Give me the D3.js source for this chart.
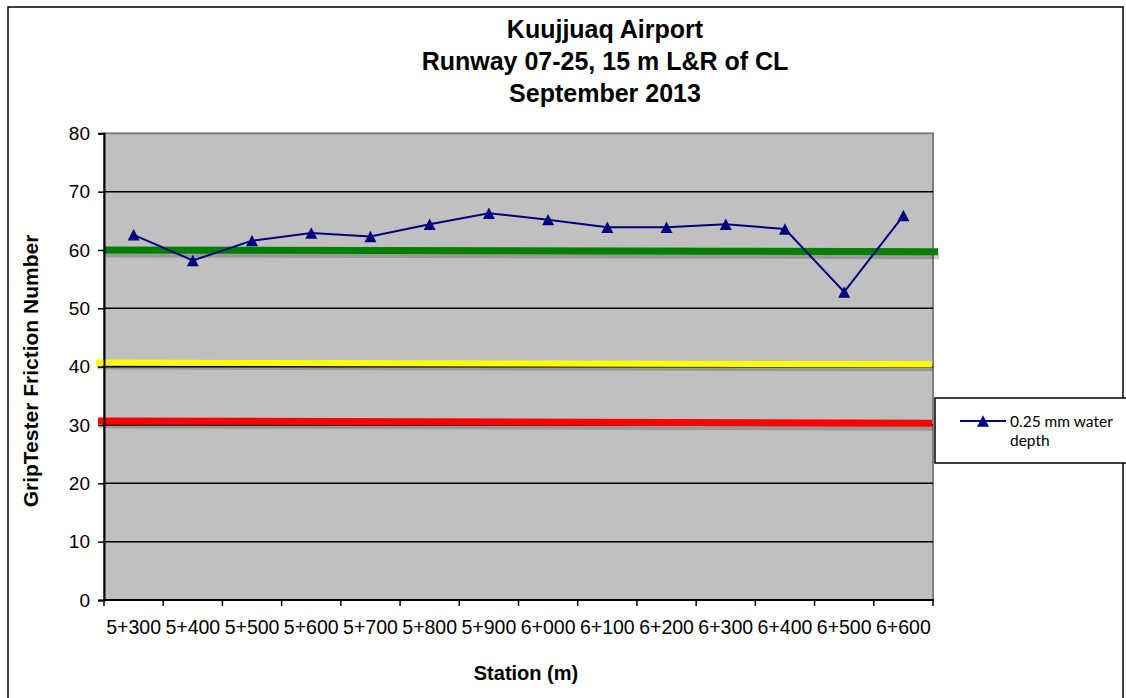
<!DOCTYPE html>
<html>
<head>
<meta charset="utf-8">
<script src="https://cdn.jsdelivr.net/npm/d3@7"></script>
<style>
  html, body { margin: 0; padding: 0; background: #fff; }
  svg { display: block; }
</style>
</head>
<body>
<svg id="chart" width="1126" height="698"></svg>
<script>
// Stations along the runway
const stations = ["5+300", "5+400", "5+500", "5+600", "5+700", "5+800", "5+900",
                  "6+000", "6+100", "6+200", "6+300", "6+400", "6+500", "6+600"];
// GripTester friction numbers at 0.25 mm water depth
const friction = [62.6, 58.2, 61.6, 62.9, 62.3, 64.4, 66.3,
                  65.2, 63.9, 63.9, 64.4, 63.6, 52.8, 65.9];
const yTicks = [0, 10, 20, 30, 40, 50, 60, 70, 80];
// Friction level lines (value at left end, value at right end)
const levelNames = ["design", "maintenance", "minimum"];
const levelStart = [60.0, 40.7, 30.7];
const levelEnd = [59.7, 40.4, 30.3];
const levelColors = ["#008000", "#ffff00", "#ff0000"];
const titleLines = ["Kuujjuaq Airport", "Runway 07-25, 15 m L&R of CL", "September 2013"];
const seriesName = ["0.25 mm water", "depth"];

const svg = d3.select("#chart");
const font = "'Liberation Sans', Arial, sans-serif";

const plot = { left: 104, right: 933, top: 133.3, bottom: 600 };

const x = d3.scaleBand().domain(stations).range([plot.left, plot.right]);
const y = d3.scaleLinear().domain([0, 80]).range([plot.bottom, plot.top]);

// outer chart frame
svg.append("rect").attr("x", 8).attr("y", 7).attr("width", 1115).attr("height", 700)
  .attr("fill", "#fff").attr("stroke", "#000").attr("stroke-width", 1.5);

// title
const title = svg.append("g").attr("font-family", font).attr("font-weight", "bold")
  .attr("font-size", 25).attr("text-anchor", "middle").attr("fill", "#000");
titleLines.forEach((t, i) => {
  title.append("text").attr("x", 605).attr("y", 38 + i * 32).text(t);
});

// plot background
svg.append("rect").attr("x", plot.left).attr("y", plot.top)
  .attr("width", plot.right - plot.left).attr("height", plot.bottom - plot.top)
  .attr("fill", "#c0c0c0").attr("stroke", "#808080").attr("stroke-width", 2);

// horizontal gridlines
svg.append("g").selectAll("line").data(yTicks.filter(d => d > 0 && d < 80)).join("line")
  .attr("x1", plot.left).attr("x2", plot.right)
  .attr("y1", d => y(d)).attr("y2", d => y(d))
  .attr("stroke", "#000").attr("stroke-width", 1.5);

// level lines with drop shadows
const levelX = [[104, 938], [96, 932], [98, 932]];
const levelW = [7, 6, 7];
const levels = svg.append("g");
levelNames.forEach((n, i) => {
  levels.append("line").attr("class", "shadow-" + n)
    .attr("x1", levelX[i][0] + 1).attr("x2", levelX[i][1] + 1)
    .attr("y1", y(levelStart[i]) + 4).attr("y2", y(levelEnd[i]) + 4)
    .attr("stroke", "#000").attr("stroke-opacity", 0.2).attr("stroke-width", levelW[i]);
  levels.append("line").attr("class", "level-" + n)
    .attr("x1", levelX[i][0]).attr("x2", levelX[i][1])
    .attr("y1", y(levelStart[i])).attr("y2", y(levelEnd[i]))
    .attr("stroke", levelColors[i]).attr("stroke-width", levelW[i]);
});

// y axis
const yAxis = svg.append("g").attr("transform", `translate(${plot.left},0)`)
  .call(d3.axisLeft(y).tickValues(yTicks).tickSize(6).tickPadding(8));
yAxis.select(".domain").attr("stroke", "#000").attr("stroke-width", 2);
yAxis.selectAll(".tick line").attr("stroke", "#000").attr("stroke-width", 1.5);
yAxis.selectAll(".tick text").attr("font-family", font).attr("font-size", 19).attr("fill", "#000");

// x axis: labels centred in each band, ticks on the band boundaries
const xAxis = svg.append("g").attr("transform", `translate(0,${plot.bottom})`)
  .call(d3.axisBottom(x).tickSize(0).tickPadding(20));
xAxis.select(".domain").remove();
xAxis.selectAll(".tick text").attr("font-family", font).attr("font-size", 19.5).attr("fill", "#000");
svg.append("line").attr("x1", plot.left - 1).attr("x2", plot.right + 1)
  .attr("y1", plot.bottom).attr("y2", plot.bottom).attr("stroke", "#000").attr("stroke-width", 2);
const bounds = stations.map(s => x(s)).concat([x.range()[1]]);
svg.append("g").selectAll("line").data(bounds).join("line")
  .attr("x1", d => d).attr("x2", d => d)
  .attr("y1", plot.bottom).attr("y2", plot.bottom + 6)
  .attr("stroke", "#000").attr("stroke-width", 1.5);

// axis titles
svg.append("text").attr("x", 526).attr("y", 680).attr("text-anchor", "middle")
  .attr("font-family", font).attr("font-weight", "bold").attr("font-size", 20)
  .text("Station (m)");
svg.append("text").attr("transform", "translate(38,371) rotate(-90)").attr("text-anchor", "middle")
  .attr("font-family", font).attr("font-weight", "bold").attr("font-size", 21)
  .text("GripTester Friction Number");

// triangle marker, slightly wider than tall
const triangle = {
  draw(ctx, size) {
    const w = Math.sqrt(size), h = w * 0.95;
    ctx.moveTo(0, -h / 2);
    ctx.lineTo(w / 2, h / 2);
    ctx.lineTo(-w / 2, h / 2);
    ctx.closePath();
  }
};
const tri = d3.symbol().type(triangle).size(144);

// series line and markers
const cx = d => x(d) + x.bandwidth() / 2;
const pts = stations.map((s, i) => [cx(s), y(friction[i])]);
svg.append("path").attr("d", d3.line()(pts))
  .attr("fill", "none").attr("stroke", "#000080").attr("stroke-width", 2);
svg.append("g").selectAll("path").data(pts).join("path")
  .attr("transform", d => `translate(${d[0]},${d[1]})`)
  .attr("d", tri()).attr("fill", "#000080");

// legend
const lg = svg.append("g");
lg.append("rect").attr("x", 935).attr("y", 398).attr("width", 200).attr("height", 65)
  .attr("fill", "#fff").attr("stroke", "#000").attr("stroke-width", 1.5);
lg.append("line").attr("x1", 960).attr("x2", 1006).attr("y1", 421).attr("y2", 421)
  .attr("stroke", "#000080").attr("stroke-width", 2);
lg.append("path").attr("transform", "translate(983,421)").attr("d", tri()).attr("fill", "#000080");
seriesName.forEach((t, i) => {
  lg.append("text").attr("x", 1010).attr("y", 427 + i * 19)
    .attr("font-family", "Lato, 'Open Sans', sans-serif").attr("font-size", 15.5).text(t);
});
</script>
</body>
</html>
